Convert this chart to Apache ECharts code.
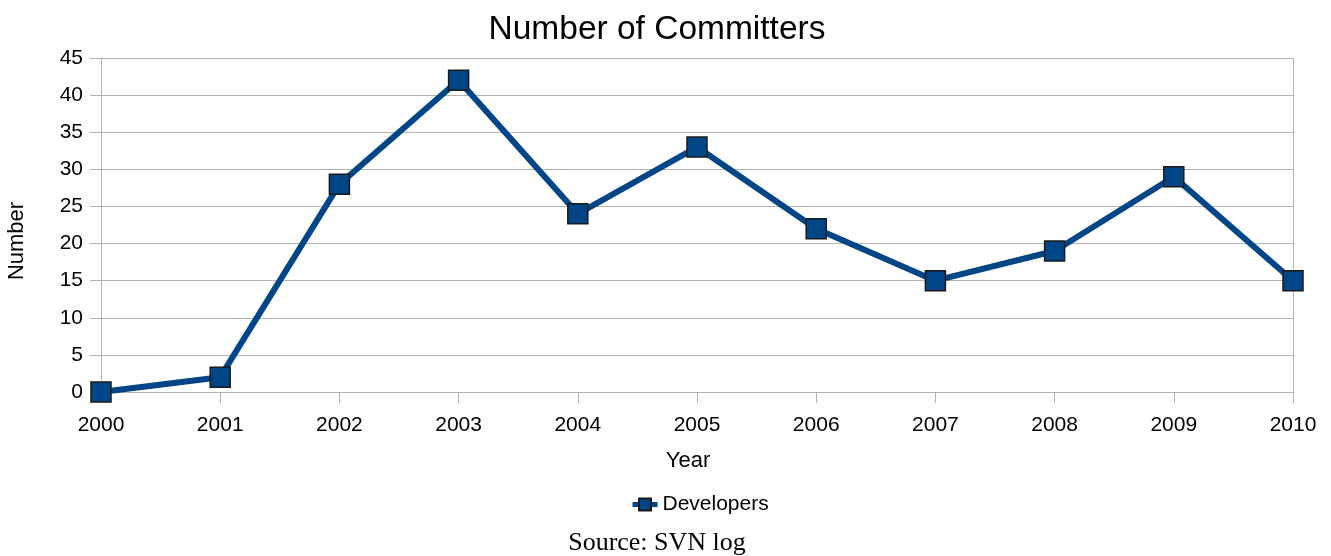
<!DOCTYPE html>
<html>
<head>
<meta charset="utf-8">
<script src="https://cdn.jsdelivr.net/npm/echarts@6/dist/echarts.min.js"></script>
<style>
  html, body { margin: 0; padding: 0; background: #fff; }
  #chart { width: 1331px; height: 556px; }
</style>
</head>
<body>
<div id="chart"></div>
<script>
// Committers per year
const years = ['2000', '2001', '2002', '2003', '2004', '2005', '2006', '2007', '2008', '2009', '2010'];
const developers = [0, 2, 28, 42, 24, 33, 22, 15, 19, 29, 15];
const seriesName = 'Developers';

const chart = echarts.init(document.getElementById('chart'), null, { renderer: 'canvas' });
const sans = '"Liberation Sans", Arial, sans-serif';
const serif = '"Liberation Serif", "Times New Roman", serif';
const gridColor = '#b3b3b3';
const lineColor = '#004586';

chart.setOption({
  animation: false,
  backgroundColor: '#ffffff',
  legend: {
    data: [seriesName],
    left: 630,
    top: 494,
    padding: 0,
    itemWidth: 25,
    itemHeight: 15,
    itemGap: 5,
    lineStyle: { width: 5 },
    textStyle: { fontFamily: sans, fontSize: 21, color: '#000' }
  },
  grid: { left: 101, right: 38, top: 58, bottom: 164, containLabel: false },
  xAxis: {
    type: 'category',
    data: years,
    boundaryGap: false,
    axisLine: { show: true, lineStyle: { color: gridColor, width: 1 } },
    axisTick: { show: true, interval: 0, length: 11, lineStyle: { color: gridColor } },
    axisLabel: { interval: 0, margin: 23, fontFamily: sans, fontSize: 21, color: '#000' },
    splitLine: { show: false }
  },
  yAxis: {
    type: 'value',
    min: 0,
    max: 45,
    interval: 5,
    axisLine: { show: true, lineStyle: { color: gridColor, width: 1 } },
    axisTick: { show: true, length: 11, lineStyle: { color: gridColor } },
    axisLabel: { margin: 18, fontFamily: sans, fontSize: 21, color: '#000' },
    splitLine: { show: true, lineStyle: { color: gridColor, width: 1 } }
  },
  series: [
    {
      name: seriesName,
      type: 'line',
      data: developers,
      symbol: 'rect',
      symbolSize: 20,
      showAllSymbol: true,
      lineStyle: { color: lineColor, width: 6 },
      itemStyle: { color: lineColor, borderColor: '#1a1a1a', borderWidth: 1.5 },
      emphasis: { disabled: true }
    }
  ],
  graphic: [
    // right frame edge of the plot
    {
      type: 'line',
      shape: { x1: 1293.5, y1: 58, x2: 1293.5, y2: 392 },
      style: { stroke: gridColor, lineWidth: 1 },
      z: 0
    },
    {
      type: 'text',
      x: 657,
      y: 30,
      style: {
        text: 'Number of Committers',
        fill: '#000',
        font: '33.5px ' + sans,
        textAlign: 'center',
        textVerticalAlign: 'middle'
      }
    },
    {
      type: 'text',
      x: 688,
      y: 461,
      style: {
        text: 'Year',
        fill: '#000',
        font: '22px ' + sans,
        textAlign: 'center',
        textVerticalAlign: 'middle'
      }
    },
    {
      type: 'text',
      x: 17,
      y: 241,
      rotation: Math.PI / 2,
      style: {
        text: 'Number',
        fill: '#000',
        font: '22px ' + sans,
        textAlign: 'center',
        textVerticalAlign: 'middle'
      }
    },
    {
      type: 'text',
      x: 657,
      y: 543,
      style: {
        text: 'Source: SVN log',
        fill: '#000',
        font: '26px ' + serif,
        textAlign: 'center',
        textVerticalAlign: 'middle'
      }
    }
  ]
});
</script>
</body>
</html>
